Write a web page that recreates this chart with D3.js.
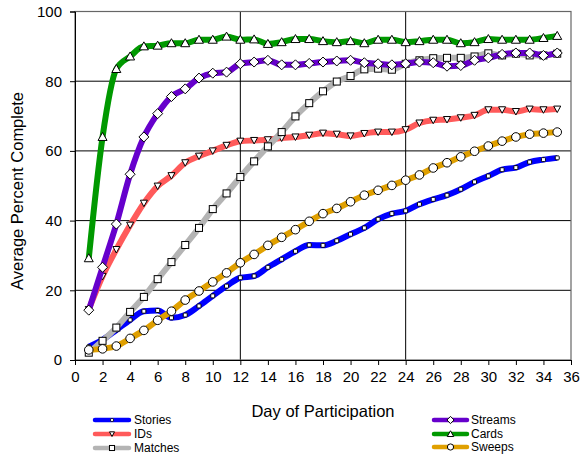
<!DOCTYPE html>
<html><head><meta charset="utf-8">
<script src="https://cdn.jsdelivr.net/npm/d3@7"></script>
<style>html,body{margin:0;padding:0;background:#fff;}svg{display:block;font-family:"Liberation Sans",Arial,sans-serif;}</style>
</head><body><svg id="c" width="581" height="458"></svg>
<script>
const days = d3.range(1, 36);
const xTicks = d3.range(0, 37, 2);
const yTicks = [0, 20, 40, 60, 80, 100];
const seriesNames = ["Stories", "IDs", "Matches", "Streams", "Cards", "Sweeps"];
const stories = [3.8,5.8,8.6,11.5,14,14.2,12.1,12.9,15.5,18.4,21.2,23.6,24.1,26.6,28.9,31.2,33,32.9,34.2,36.1,37.9,40.4,42,42.8,44.7,46.1,47.3,49,51.1,52.8,54.6,55.2,56.8,57.5,58];
const ids = [14.5,24,31.7,38.7,45,49.9,52.9,56.6,58.5,60,61.6,62.8,63,63.2,63.7,64,64.5,65.1,64.8,64.3,65,65.4,65.4,66.1,68,68.8,69,69.5,70.2,71.8,71.8,71.3,72,71.8,72];
const matches = [2.1,5.5,9.3,13.8,18.1,23.2,28.1,33,37.9,43.3,47.8,52.5,57,61.3,65.4,69.9,73.7,77.1,79.9,81.5,83.4,83.6,83.3,85,86,86.6,86.7,86.7,87.1,88,87.4,87.9,87.4,87.4,87.9];
const streams = [14.3,26.6,39,53.3,64,70.7,75.6,77.8,80.9,82.3,82.6,85,85.5,86,84.7,84.7,85.1,85.5,85.8,86,85.3,85,84.7,85,85.5,85.3,84.3,84.5,86,86.7,87.7,88.1,88.1,87.4,88.1];
const cards = [29.2,64,83.5,87.1,90,90.2,90.9,90.9,91.9,91.9,92.8,91.9,92,90.7,91.2,92.1,92.1,91.5,91.2,91.5,90.9,91.9,91.9,91.2,91.5,91.9,91.9,90.9,91.2,92.1,91.9,91.9,91.9,92.4,93];
const sweeps = [2.9,3.2,4,6.2,8.5,11.4,14,17.2,19.8,22.4,25,27.9,30.3,32.9,35.2,37.4,39.8,42,43.5,45.4,47.3,48.7,50.1,51.6,53.1,55.1,56.6,58.3,59.9,61.4,62.8,64,64.8,65.1,65.4];

const series = [
  {name:"Stories", values:stories, color:"#0000FF", marker:"smallsq"},
  {name:"IDs", values:ids, color:"#FF5A5A", marker:"tridown"},
  {name:"Matches", values:matches, color:"#B4B4B4", marker:"square"},
  {name:"Streams", values:streams, color:"#6600CC", marker:"diamond"},
  {name:"Cards", values:cards, color:"#009900", marker:"triup"},
  {name:"Sweeps", values:sweeps, color:"#E0A000", marker:"circle"}
];

const svg = d3.select("#c");
const L = 75, R = 571, T = 11.5, B = 360;
const x = d3.scaleLinear().domain([0, 36]).range([L, R]);
const y = d3.scaleLinear().domain([0, 100]).range([B, T]);

// gridlines
const g = svg.append("g");
g.selectAll(".hg").data(yTicks.filter(v => v > 0 && v < 100)).enter().append("line")
  .attr("x1", L).attr("x2", R).attr("y1", d => y(d)).attr("y2", d => y(d))
  .attr("stroke", "#000").attr("stroke-width", 1);
g.selectAll(".vg").data([12, 24]).enter().append("line")
  .attr("y1", T).attr("y2", B).attr("x1", d => x(d)).attr("x2", d => x(d))
  .attr("stroke", "#000").attr("stroke-width", 1);
g.append("rect").attr("x", L).attr("y", T).attr("width", R - L).attr("height", B - T)
  .attr("fill", "none").attr("stroke", "#666").attr("stroke-width", 1.2);

// axes
const xAxis = d3.axisBottom(x).tickValues(xTicks).tickSize(5).tickPadding(6).tickFormat(d3.format("d"));
const xa = svg.append("g").attr("transform", `translate(0,${B})`).call(xAxis);
xa.select(".domain").attr("stroke", "#000");
xa.selectAll("text").attr("font-size", 15).attr("fill", "#000").attr("font-family", "Liberation Sans, Arial, sans-serif");
const yAxis = d3.axisLeft(y).tickValues(yTicks).tickSize(5).tickPadding(8);
const ya = svg.append("g").attr("transform", `translate(${L},0)`).call(yAxis);
ya.select(".domain").attr("stroke", "#000");
ya.selectAll("text").attr("font-size", 15).attr("fill", "#000").attr("font-family", "Liberation Sans, Arial, sans-serif");

// titles
svg.append("text").attr("x", 323).attr("y", 417).attr("text-anchor", "middle")
  .attr("font-size", 16.5).text("Day of Participation");
svg.append("text").attr("transform", "translate(23,191) rotate(-90)").attr("text-anchor", "middle")
  .attr("font-size", 16.5).text("Average Percent Complete");

// markers
function drawMarker(sel, type, cx, cy, k) {
  k = k || 1;
  let m;
  if (type === "smallsq") m = sel.append("rect").attr("x", cx-2*k).attr("y", cy-2*k).attr("width", 4*k).attr("height", 4*k).attr("rx", 0.8);
  else if (type === "square") m = sel.append("rect").attr("x", cx-3.5*k).attr("y", cy-3.5*k).attr("width", 7*k).attr("height", 7*k);
  else if (type === "circle") m = sel.append("circle").attr("cx", cx).attr("cy", cy).attr("r", 4.3*k);
  else if (type === "diamond") m = sel.append("path").attr("d", `M${cx},${cy-5*k}L${cx+5*k},${cy}L${cx},${cy+5*k}L${cx-5*k},${cy}Z`);
  else if (type === "triup") m = sel.append("path").attr("d", `M${cx},${cy-4.5*k}L${cx+4.5*k},${cy+3.5*k}L${cx-4.5*k},${cy+3.5*k}Z`);
  else if (type === "tridown") m = sel.append("path").attr("d", `M${cx-3.5*k},${cy-3*k}L${cx+3.5*k},${cy-3*k}L${cx},${cy+3.5*k}Z`);
  m.attr("fill", "#fff").attr("stroke", "#000").attr("stroke-width", 1);
}

const line = d3.line().x((d, i) => x(days[i])).y(d => y(d)).curve(d3.curveMonotoneX);
series.forEach(s => {
  const gg = svg.append("g");
  gg.append("path").attr("d", line(s.values)).attr("fill", "none").attr("stroke", s.color)
    .attr("stroke-width", 6).attr("stroke-linejoin", "round").attr("stroke-linecap", "butt");
  s.values.forEach((v, i) => drawMarker(gg, s.marker, x(days[i]), y(v)));
});

// legend
const legPos = [
  {x1:95, x2:129, tx:134, y:420}, {x1:95, x2:129, tx:134, y:434}, {x1:95, x2:129, tx:134, y:448},
  {x1:434, x2:467, tx:471, y:420}, {x1:434, x2:467, tx:471, y:434}, {x1:434, x2:467, tx:471, y:447}
];
series.forEach((s, i) => {
  const p = legPos[i];
  const lg = svg.append("g");
  lg.append("line").attr("x1", p.x1).attr("x2", p.x2).attr("y1", p.y).attr("y2", p.y)
    .attr("stroke", s.color).attr("stroke-width", 4.5).attr("stroke-linecap", "round");
  drawMarker(lg, s.marker, (p.x1 + p.x2) / 2, p.y, 0.72);
  lg.append("text").attr("x", p.tx).attr("y", p.y + 4.3).attr("font-size", 12).text(s.name);
});
</script></body></html>
